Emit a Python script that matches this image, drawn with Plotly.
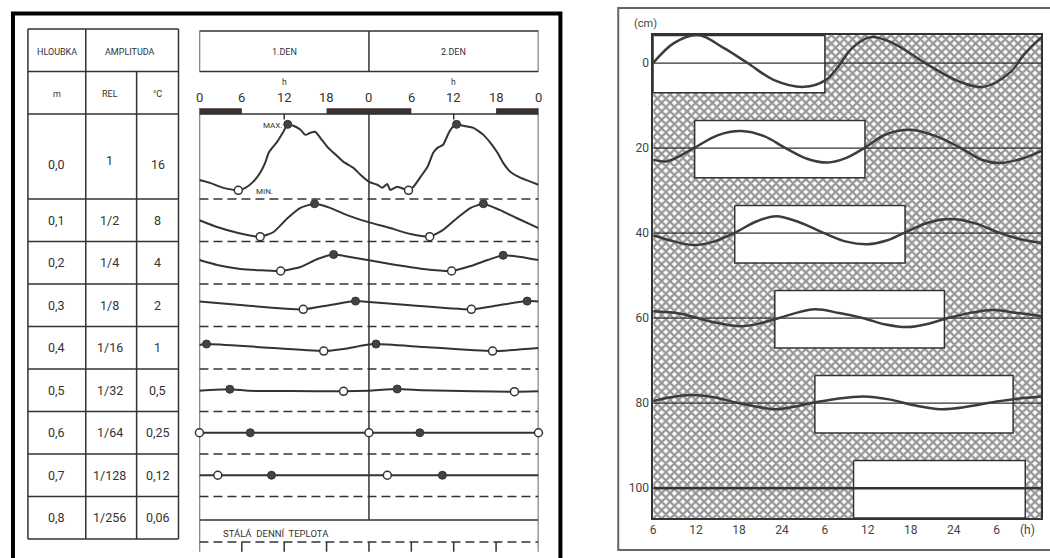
import numpy as np
import plotly.graph_objects as go

W, H = 1050, 558
FONT = "Roboto, 'DejaVu Sans', sans-serif"
INK = "#333333"

# ---------------- table: depth and amplitude ----------------
depth_m = ["0,0", "0,1", "0,2", "0,3", "0,4", "0,5", "0,6", "0,7", "0,8"]
amp_rel = ["1", "1/2", "1/4", "1/8", "1/16", "1/32", "1/64", "1/128", "1/256"]
amp_degc = ["16", "8", "4", "2", "1", "0,5", "0,25", "0,12", "0,06"]

# ---------------- daily temperature course (hour 0-48, deviation in °C) ----------------
surf_h = [0, 1.5, 3.4, 5.5, 6.5, 7.6, 8.6, 9.3, 9.8, 10.3, 11.0, 11.8, 12.5, 13.3, 14.3, 15.0,
          15.7, 16.4, 17.1, 18.1, 19.0, 20.4, 21.8, 22.8, 24.0, 25.2, 25.9, 26.6, 27.0, 28.0,
          29.6, 30.3, 31.3, 32.3, 33.1, 33.7, 34.5, 35.3, 36.0, 36.4, 37.4, 38.8, 40.2, 41.2,
          42.2, 43.0, 44.0, 45.5, 48.0]
surf_t = [-11, -12.4, -14.8, -16, -14.8, -11.9, -7.5, -2.7, 2.2, 4.6, 7.5, 11.9, 16, 15.3, 13.4,
          10.9, 11.9, 12.4, 9.5, 5.1, 2.2, -2.2, -5.1, -8.5, -11.9, -13.3, -14.8, -12.9, -15.8,
          -14.3, -16, -14.3, -9.5, -4.6, 2.2, 4.6, 6.1, 11.9, 15.3, 16, 15.3, 14.3, 10.9, 7.0,
          2.2, -2.7, -7.0, -10.0, -13.3]
surf_max = [12.5, 36.4]
surf_min = [5.5, 29.6]

d01_h = [0, 2.5, 5.5, 8.6, 10.5, 12.5, 14.3, 16.3, 18.5, 20.9, 23.8, 27.0, 29.9, 32.6, 34.5,
         36.5, 38.4, 40.2, 42.5, 44.9, 48]
d01_t = [0, -3.3, -6.2, -8, -5.7, 1.1, 6, 8, 6, 2.5, -0.8, -3.8, -6.7, -8, -4.7, 1.1, 6, 8, 5,
         1.1, -3.8]
d01_max = [16.3, 40.2]
d01_min = [8.6, 32.6]

d02_h = [0, 2.5, 5.8, 11.5, 14.3, 16.7, 19.0, 21.3, 23.8, 27.0, 31.7, 35.7, 38.4, 40.8, 43.0,
         45.5, 48]
d02_t = [1.3, -1.1, -3.0, -4, -2.1, 1.8, 4, 2.8, 1.3, -0.6, -3.0, -4, -1.6, 1.3, 3.6, 2.8, 1.3]
d02_max = [19.0, 43.0]
d02_min = [11.5, 35.7]

d03_h = [0, 5.8, 14.7, 18.5, 22.1, 24, 29.4, 38.5, 42.5, 46.4, 48]
d03_t = [1.8, 0.1, -2, 0.1, 2, 1.6, 0.1, -2, 0.1, 2, 1.8]
d03_max = [22.1, 46.4]
d03_min = [14.7, 38.5]

d04_h = [0, 1.0, 8.2, 17.6, 20.4, 23.5, 25.0, 31.7, 41.5, 48]
d04_t = [1.3, 1.8, 0.4, -1.6, -0.6, 1.3, 1.8, 0.4, -1.6, -0.1]
d04_max = [1.0, 25.0]
d04_min = [17.6, 41.5]

d05_h = [0, 4.3, 7, 13, 20.4, 24, 28.0, 31.7, 38.8, 44.6, 48]
d05_t = [-0.2, 0.5, -0.3, -0.4, -0.5, -0.2, 0.6, 0.0, -0.5, -0.7, -0.5]
d05_max = [4.3, 28.0]
d05_min = [20.4, 44.6]

d06_h = [0, 48]
d06_t = [0, 0]
d06_max = [7.2, 31.2]
d06_min = [0, 24, 48]

d07_h = [0, 48]
d07_t = [0, 0]
d07_max = [10.2, 34.4]
d07_min = [2.6, 26.6]

hour_ticks = [0, 6, 12, 18, 24, 30, 36, 42, 48]
hour_labels = ["0", "6", "12", "18", "0", "6", "12", "18", "0"]
night_start = [0, 18, 42]
night_end = [6, 30, 48]
day_names = ["1.DEN", "2.DEN"]
day_mid = [12, 36]

# ---------------- soil profile: wave by depth (hour, offset in cm) ----------------
soil_depth = [0, 20, 40, 60, 80, 100]

w00_h = [6, 8.9, 12.3, 15.9, 19.2, 22.9, 27.1, 30.1, 31.8, 33.8, 36.4, 39.5, 44, 48.7, 52.2,
         56, 57.8, 60.2]
w00_v = [0, -4.7, -6.6, -3.5, 0, 4, 5.6, 4, 1.0, -3.5, -6.1, -4.7, 0, 4.3, 5.6, 2, -2, -6]

w20_h = [6, 8, 11.7, 15, 18.3, 21.5, 24.5, 27.5, 30.4, 33, 35.5, 38.5, 42, 45.5, 49, 52, 54.5,
         57.5, 60.2]
w20_v = [2.7, 3.1, 0, -3, -4, -2.8, 0, 2.5, 3.4, 2.3, 0, -3.2, -4.3, -2.8, 0, 2.8, 3.5, 2.5,
         0.7]

w40_h = [6, 9, 11.7, 14.5, 17.3, 20.5, 23.2, 26.5, 29.9, 33, 36, 38.5, 41, 44.5, 47.6, 51,
         54.5, 57.5, 60.2]
w40_v = [0.5, 2.0, 2.8, 2.0, 0, -2.8, -4, -2.5, 0, 2.0, 2.6, 1.8, 0, -2.5, -3.3, -2.3, 0, 1.5,
         2.3]

w60_h = [6, 10, 14, 18.3, 21, 23.5, 28.5, 32, 35.4, 38.5, 41.6, 44.5, 47.1, 50.5, 53.6, 57,
         60.2]
w60_v = [-1.6, -1.0, 0.8, 1.9, 1.2, 0, -2.1, -1.2, 0, 1.5, 2.1, 1.3, 0, -1.3, -1.9, -1.2, -0.5]

w80_h = [6, 8.5, 11.3, 14.5, 18, 22.9, 25.5, 28, 31.5, 35.4, 39, 42.5, 46.2, 50, 54, 57.7, 60.2]
w80_v = [-0.5, -1.4, -1.9, -1.4, 0, 1.4, 0.9, 0, -1.0, -1.6, -0.9, 0.5, 1.4, 0.8, -0.4, -1.2,
         -1.6]

box_start = [6, 11.8, 17.4, 23, 28.6, 34]
box_end = [30, 35.6, 41.2, 46.7, 56.3, 58]

time_ticks = [6, 12, 18, 24, 30, 36, 42, 48, 54]
time_labels = ["6", "12", "18", "24", "6", "12", "18", "24", "6"]
depth_labels = ["0", "20", "40", "60", "80", "100"]


# ---------------- helpers ----------------
def px(x):
    return x / W


def py(y):
    return 1 - y / H


U_PER_DEG = 0.0485           # row units per °C on the daily-course panel
ROW_CENTER = [3.02, 4.5, 5.5, 6.5, 7.5, 8.5, 9.5, 10.5]
X2_RANGE = [6.0, 60.2]
Y2_RANGE = [107, -6.6]

fig = go.Figure()
shapes = []
ann = []


def hline(x0, x1, y, xref, yref, width=1.5, dash="solid", color=INK):
    shapes.append(dict(type="line", x0=x0, x1=x1, y0=y, y1=y, xref=xref, yref=yref,
                       line=dict(color=color, width=width, dash=dash), layer="below"))


def vline(x, y0, y1, xref, yref, width=1.5, color=INK):
    shapes.append(dict(type="line", x0=x, x1=x, y0=y0, y1=y1, xref=xref, yref=yref,
                       line=dict(color=color, width=width), layer="below"))


def text(x, y, s, size, xref="paper", yref="y", xanchor="center", color=INK):
    ann.append(dict(x=x, y=y, text=s, xref=xref, yref=yref, showarrow=False, xanchor=xanchor,
                    yanchor="middle", font=dict(family=FONT, size=size, color=color)))


# ---------------- table ----------------
TX = [25, 83, 134, 176]
for u in [0, 1, 2, 4, 5, 6, 7, 8, 9, 10, 11, 12]:
    hline(px(TX[0]), px(TX[3]), u, "paper", "y")
vline(px(TX[0]), 0, 12, "paper", "y")
vline(px(TX[1]), 0, 12, "paper", "y")
vline(px(TX[2]), 1, 12, "paper", "y")
vline(px(TX[3]), 0, 12, "paper", "y")

text(px(54), 0.55, "HLOUBKA", 9)
text(px(127), 0.55, "AMPLITUDA", 9)
text(px(54), 1.52, "m", 9)
text(px(107), 1.52, "REL", 9)
text(px(155), 1.52, "°C", 9)
for i in range(len(depth_m)):
    yc = 3.18 if i == 0 else 4.5 + (i - 1)
    text(px(54), yc, depth_m[i], 12.5)
    text(px(107), yc - (0.08 if i == 0 else 0), amp_rel[i], 12.5)
    text(px(155), yc, amp_degc[i], 12.5)

# ---------------- daily course panel ----------------
# header with day names
shapes.append(dict(type="rect", x0=0, x1=48, y0=0.05, y1=1.0, xref="x", yref="y",
                   line=dict(color=INK, width=1.5), layer="below"))
vline(24, 0.05, 1.0, "x", "y")
for name, m in zip(day_names, day_mid):
    text(m, 0.55, name, 9, xref="x")
    text(m, 1.25, "h", 8.5, xref="x")
for t, lab in zip(hour_ticks, hour_labels):
    text(t, 1.62, lab, 13, xref="x")

hline(0, 48, 2.0, "x", "y")
for t in day_mid:
    vline(t, 2.0, 2.13, "x", "y")
vline(0, 1.86, 12.3, "x", "y")
vline(48, 1.86, 12.3, "x", "y")
vline(24, 2.0, 11.55, "x", "y")
for u in range(4, 12):
    hline(0, 48, u, "x", "y", dash="9px,5px")
hline(0, 48, 11.55, "x", "y")
hline(0, 48, 12.07, "x", "y", dash="9px,5px")
for t in hour_ticks[1:-1]:
    vline(t, 12.07, 12.3, "x", "y")
text(3.0, 11.86, "STÁLÁ  DENNÍ  TEPLOTA", 9.5, xref="x", xanchor="left")

# night periods
for s, e in zip(night_start, night_end):
    fig.add_trace(go.Scatter(x=[s, e], y=[1.935, 1.935], mode="lines", xaxis="x", yaxis="y",
                             line=dict(color="#3a3030", width=6), hoverinfo="skip"))

rows = [
    (surf_h, surf_t, surf_max, surf_min),
    (d01_h, d01_t, d01_max, d01_min),
    (d02_h, d02_t, d02_max, d02_min),
    (d03_h, d03_t, d03_max, d03_min),
    (d04_h, d04_t, d04_max, d04_min),
    (d05_h, d05_t, d05_max, d05_min),
    (d06_h, d06_t, d06_max, d06_min),
    (d07_h, d07_t, d07_max, d07_min),
]
for k, (hh, tt, mx, mn) in enumerate(rows):
    c = ROW_CENTER[k]
    yy = [c - U_PER_DEG * v for v in tt]
    fig.add_trace(go.Scatter(x=hh, y=yy, mode="lines", xaxis="x", yaxis="y",
                             line=dict(color=INK, width=2, shape="spline", smoothing=0.5),
                             hoverinfo="skip"))
    ymx = [c - U_PER_DEG * v for v in np.interp(mx, hh, tt)]
    ymn = [c - U_PER_DEG * v for v in np.interp(mn, hh, tt)]
    fig.add_trace(go.Scatter(x=mx, y=ymx, mode="markers", xaxis="x", yaxis="y", cliponaxis=False,
                             marker=dict(size=8, color="#4a4040", line=dict(color=INK, width=1)),
                             hoverinfo="skip"))
    fig.add_trace(go.Scatter(x=mn, y=ymn, mode="markers", xaxis="x", yaxis="y", cliponaxis=False,
                             marker=dict(size=8, color="white", line=dict(color=INK, width=1.5)),
                             hoverinfo="skip"))

# labels on the surface curve
ann.append(dict(x=surf_max[0] - 0.5, y=ROW_CENTER[0] - U_PER_DEG * 16 + 0.03, text="MAX.",
                xref="x", yref="y", showarrow=False, xanchor="right", yanchor="middle",
                font=dict(family=FONT, size=8, color=INK)))
ann.append(dict(x=surf_min[0] + 2.2, y=ROW_CENTER[0] + U_PER_DEG * 16 + 0.02, text="MIN.",
                xref="x", yref="y", showarrow=False, xanchor="left", yanchor="middle",
                font=dict(family=FONT, size=8, color=INK)))

# ---------------- soil profile panel ----------------
fig.add_trace(go.Scatter(x=[X2_RANGE[0], X2_RANGE[1], X2_RANGE[1], X2_RANGE[0], X2_RANGE[0]],
                         y=[Y2_RANGE[1], Y2_RANGE[1], Y2_RANGE[0], Y2_RANGE[0], Y2_RANGE[1]],
                         xaxis="x2", yaxis="y2", mode="lines", fill="toself",
                         line=dict(width=0, color="rgba(0,0,0,0)"),
                         fillcolor="white",
                         fillpattern=dict(shape="x", size=6, solidity=0.62, fgcolor="#2e2e2e",
                                          bgcolor="white"),
                         hoverinfo="skip"))
for d, s, e in zip(soil_depth, box_start, box_end):
    top, bot = d - 6.5, min(d + 7, Y2_RANGE[0])
    fig.add_trace(go.Scatter(x=[s, e, e, s, s], y=[top, top, bot, bot, top], xaxis="x2",
                             yaxis="y2", mode="lines", fill="toself", fillcolor="white",
                             line=dict(color=INK, width=1.5), hoverinfo="skip"))
for d in soil_depth:
    fig.add_trace(go.Scatter(x=X2_RANGE, y=[d, d], xaxis="x2", yaxis="y2", mode="lines",
                             line=dict(color=INK, width=2.5 if d == 100 else 1.3),
                             hoverinfo="skip"))
waves = [(w00_h, w00_v), (w20_h, w20_v), (w40_h, w40_v), (w60_h, w60_v), (w80_h, w80_v)]
for d, (hh, vv) in zip(soil_depth, waves):
    fig.add_trace(go.Scatter(x=hh, y=[d + v for v in vv], xaxis="x2", yaxis="y2", mode="lines",
                             line=dict(color="#3c3c3c", width=2.5, shape="spline", smoothing=1.0),
                             hoverinfo="skip"))

ann.append(dict(x=58.3, y=py(530), xref="x2", yref="paper", text="(h)", showarrow=False,
                xanchor="center", yanchor="middle", font=dict(family=FONT, size=12, color="#444")))
ann.append(dict(x=px(631), y=py(23), xref="paper", yref="paper", text="(cm)", showarrow=False,
                xanchor="left", yanchor="middle", font=dict(family=FONT, size=11, color="#444")))

# frames around the two panels
shapes.append(dict(type="rect", x0=px(10), x1=px(559), y0=-0.05, y1=py(13.5), xref="paper",
                   yref="paper", line=dict(color="black", width=4)))
shapes.append(dict(type="rect", x0=px(617), x1=1.05, y0=py(550), y1=py(8), xref="paper",
                   yref="paper", line=dict(color="#666", width=2)))

fig.update_layout(
    width=W, height=H, autosize=False,
    margin=dict(l=0, r=0, t=0, b=0),
    paper_bgcolor="white", plot_bgcolor="rgba(0,0,0,0)",
    showlegend=False,
    shapes=shapes, annotations=ann,
    xaxis=dict(domain=[px(197), px(537)], range=[0, 48], visible=False, fixedrange=True),
    yaxis=dict(domain=[0, 1], range=[12.447, -0.682], visible=False, fixedrange=True),
    xaxis2=dict(domain=[px(652), px(1041)], range=X2_RANGE, anchor="y2",
                tickvals=time_ticks, ticktext=time_labels, ticks="", showgrid=False,
                zeroline=False, showline=True, mirror=True, linecolor=INK, linewidth=1.5,
                tickfont=dict(family=FONT, size=12, color="#444"), fixedrange=True),
    yaxis2=dict(domain=[py(518), py(35)], range=Y2_RANGE, anchor="x2",
                tickvals=soil_depth, ticktext=depth_labels, ticks="", showgrid=False,
                zeroline=False, showline=True, mirror=True, linecolor=INK, linewidth=1.5,
                tickfont=dict(family=FONT, size=12, color="#444"), fixedrange=True),
)

fig.write_html("out.html", config={"displayModeBar": False})
